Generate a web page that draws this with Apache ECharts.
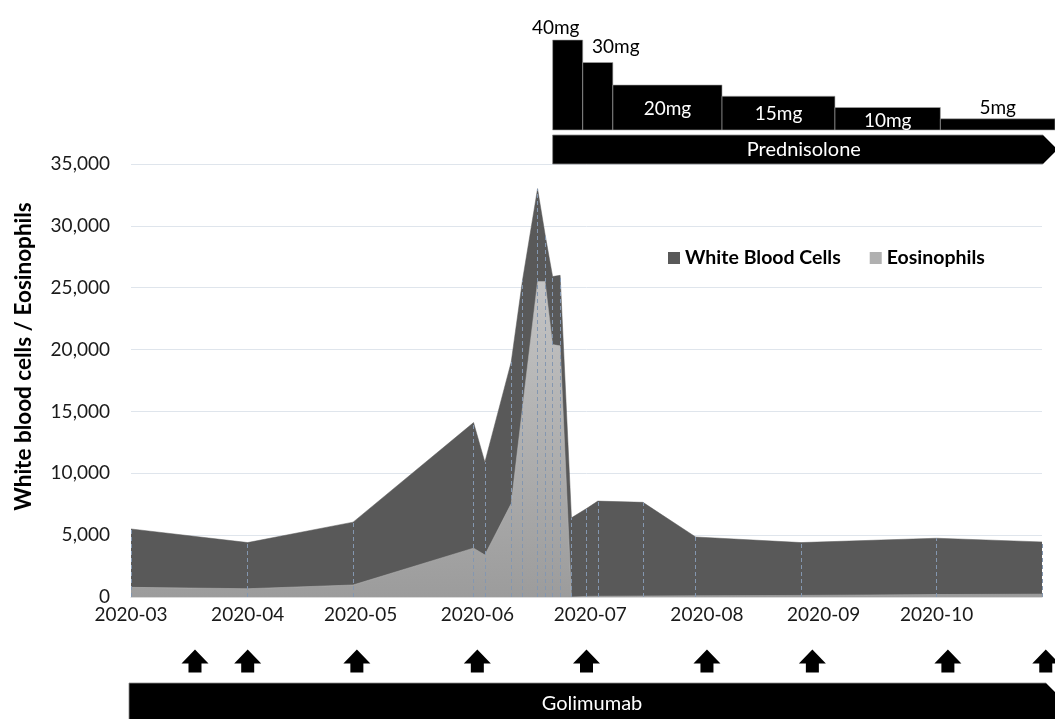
<!DOCTYPE html>
<html>
<head>
<meta charset="utf-8">
<script src="https://cdn.jsdelivr.net/npm/echarts@6/dist/echarts.min.js"></script>
<style>
html, body { margin: 0; padding: 0; background: #fff; }
#chart { width: 1055px; height: 719px; }
</style>
</head>
<body>
<div id="chart"></div>
<script>
var myChart = echarts.init(document.getElementById('chart'));

// blood counts (cells / uL)
var sampleDates = ['2020-03-01', '2020-04-01', '2020-04-29', '2020-05-31', '2020-06-03', '2020-06-10',
    '2020-06-13', '2020-06-17', '2020-06-19', '2020-06-21', '2020-06-23', '2020-06-26', '2020-06-30',
    '2020-07-03', '2020-07-15', '2020-07-29', '2020-08-26', '2020-10-01', '2020-10-29'];
var wbcCounts = [5500, 4400, 6050, 14100, 10900, 19000, 25600, 33000, 29300, 25900, 26000, 6400, 7150,
    7750, 7650, 4850, 4400, 4750, 4450];
var eosCounts = [780, 670, 970, 3950, 3400, 7550, 15300, 25500, 25500, 20400, 20300, 0, 50,
    60, 80, 100, 130, 200, 230];

// prednisolone taper
var doseStarts = ['2020-06-21', '2020-06-29', '2020-07-07', '2020-08-05', '2020-09-04', '2020-10-02'];
var doseMg = [40, 30, 20, 15, 10, 5];
var predStart = '2020-06-21';

// golimumab
var golimumabStart = '2020-03-01';
var injectionDates = ['2020-03-18', '2020-04-01', '2020-04-30', '2020-06-01', '2020-06-30',
    '2020-08-01', '2020-08-29', '2020-10-04', '2020-10-30'];

var yMax = 35000, yStep = 5000;

// label placement for the dose steps (offset from bar top centre)
var doseLabelOffset = [[-12, -12], [18, -16], [0, 24], [0, 18], [0, 13], [0, -11]];
var doseLabelColor = ['#000', '#000', '#fff', '#fff', '#fff', '#000'];

var FONT = 'Lato';
var xMin = echarts.time.parse(sampleDates[0]).getTime();
var xMax = echarts.time.parse(sampleDates[sampleDates.length - 1]).getTime();
var mainLeft = 131, mainWidth = 911, wideWidth = 924;
var wideMax = xMin + (xMax - xMin) * wideWidth / mainWidth;

var doseData = doseStarts.map(function (d, i) {
    var end = i < doseStarts.length - 1 ? echarts.time.parse(doseStarts[i + 1]).getTime() : wideMax;
    return [echarts.time.parse(d).getTime(), end, doseMg[i], i];
});

var dropLines = sampleDates.map(function (d, i) {
    return [{coord: [d, 0]}, {coord: [d, wbcCounts[i]]}];
});

function bandShape(x0, xEnd, y0, h, slope, textY, text) {
    return {
        type: 'group',
        children: [{
            type: 'polygon',
            shape: {points: [[x0, y0], [xEnd - slope, y0], [xEnd - slope + h / 2, y0 + h / 2],
                [xEnd - slope, y0 + h], [x0, y0 + h]]},
            style: {fill: '#000', stroke: '#8c8c8c', lineWidth: 0.8}
        }, {
            type: 'text',
            style: {
                text: text, x: (x0 + xEnd) / 2, y: textY,
                align: 'center', verticalAlign: 'middle',
                fill: '#fff', font: '20px ' + FONT
            }
        }]
    };
}

var option = {
    animation: false,
    textStyle: {fontFamily: FONT},
    legend: {
        left: 663,
        top: 243,
        itemWidth: 12,
        itemHeight: 12,
        itemGap: 29,
        icon: 'rect',
        textStyle: {fontFamily: FONT, fontWeight: 'bold', fontSize: 19.5, color: '#000'},
        data: ['White Blood Cells', 'Eosinophils']
    },
    grid: [
        {left: mainLeft, top: 164, width: mainWidth, height: 433},
        {left: mainLeft, top: 40, width: wideWidth, height: 90},
        {left: mainLeft, top: 641, width: wideWidth, height: 40}
    ],
    xAxis: [{
        type: 'time',
        gridIndex: 0,
        min: xMin,
        max: xMax,
        minInterval: 28 * 86400000,
        maxInterval: 31 * 86400000,
        axisLine: {lineStyle: {color: '#d9d9d9'}},
        axisTick: {show: false},
        splitLine: {show: false},
        axisLabel: {
            formatter: '{yyyy}-{MM}',
            fontSize: 19,
            color: '#1a1a1a',
            margin: 8,
            hideOverlap: false
        }
    }, {
        type: 'time', gridIndex: 1, min: xMin, max: wideMax, show: false
    }, {
        type: 'time', gridIndex: 2, min: xMin, max: wideMax, show: false
    }],
    yAxis: [{
        type: 'value',
        gridIndex: 0,
        min: 0,
        max: yMax,
        interval: yStep,
        name: 'White blood cells / Eosinophils',
        nameLocation: 'middle',
        nameGap: 96,
        nameTextStyle: {fontFamily: FONT, fontWeight: 'bold', fontSize: 22.5, color: '#000', padding: [0, 0, 0, 48]},
        axisLine: {show: false},
        axisTick: {show: false},
        splitLine: {lineStyle: {color: '#dfe5ec', width: 1}},
        axisLabel: {
            fontSize: 19,
            color: '#1a1a1a',
            margin: 21,
            formatter: function (v) { return v.toLocaleString('en-US'); }
        }
    }, {
        type: 'value', gridIndex: 1, min: 0, max: 40, show: false
    }, {
        type: 'value', gridIndex: 2, min: 0, max: 1, show: false
    }],
    series: [{
        name: 'White Blood Cells',
        type: 'line',
        xAxisIndex: 0,
        yAxisIndex: 0,
        symbol: 'none',
        itemStyle: {color: '#595959'},
        lineStyle: {width: 0.5, color: '#595959'},
        areaStyle: {color: '#595959', opacity: 1},
        data: sampleDates.map(function (d, i) { return [d, wbcCounts[i]]; })
    }, {
        name: 'Eosinophils',
        type: 'line',
        xAxisIndex: 0,
        yAxisIndex: 0,
        symbol: 'none',
        itemStyle: {color: '#b0b0b0'},
        lineStyle: {width: 0.5, color: '#bdbdbd'},
        areaStyle: {
            opacity: 1,
            color: new echarts.graphic.LinearGradient(0, 0, 0, 1, [
                {offset: 0, color: '#c4c4c4'},
                {offset: 1, color: '#9c9c9c'}
            ])
        },
        markLine: {
            silent: true,
            symbol: ['none', 'none'],
            label: {show: false},
            lineStyle: {type: [4, 3], color: '#8497b0', width: 1},
            data: dropLines
        },
        data: sampleDates.map(function (d, i) { return [d, eosCounts[i]]; })
    }, {
        name: 'Prednisolone dose',
        type: 'custom',
        xAxisIndex: 1,
        yAxisIndex: 1,
        clip: false,
        renderItem: function (params, api) {
            var top = api.coord([api.value(0), api.value(2)]);
            var bottom = api.coord([api.value(1), 0]);
            var i = api.value(3);
            var off = doseLabelOffset[i];
            return {
                type: 'group',
                children: [{
                    type: 'rect',
                    shape: {x: top[0], y: top[1], width: bottom[0] - top[0], height: bottom[1] - top[1]},
                    style: {fill: '#000', stroke: '#a6a6a6', lineWidth: 0.6}
                }, {
                    type: 'text',
                    style: {
                        text: api.value(2) + 'mg',
                        x: (top[0] + bottom[0]) / 2 + off[0],
                        y: top[1] + off[1],
                        align: 'center', verticalAlign: 'middle',
                        fill: doseLabelColor[i], font: '19px ' + FONT
                    }
                }]
            };
        },
        data: doseData
    }, {
        name: 'Prednisolone',
        type: 'custom',
        xAxisIndex: 1,
        yAxisIndex: 1,
        clip: false,
        renderItem: function (params, api) {
            var cs = params.coordSys;
            var x0 = api.coord([api.value(0), 0])[0];
            var y0 = cs.y + cs.height + 5;
            return bandShape(x0, cs.x + cs.width, y0, 29, 12, y0 + 15, 'Prednisolone');
        },
        data: [[predStart]]
    }, {
        name: 'Golimumab',
        type: 'custom',
        xAxisIndex: 2,
        yAxisIndex: 2,
        clip: false,
        renderItem: function (params, api) {
            var cs = params.coordSys;
            var x0 = api.coord([api.value(0), 0])[0];
            var y0 = cs.y + cs.height + 2;
            return bandShape(x0 - 2, cs.x + cs.width, y0, 46, 9, y0 + 21, 'Golimumab');
        },
        data: [[golimumabStart]]
    }, {
        name: 'Injections',
        type: 'scatter',
        xAxisIndex: 2,
        yAxisIndex: 2,
        symbol: 'path://M13.5,0 L27,14 L20,14 L20,23 L7,23 L7,14 L0,14 Z',
        symbolSize: [27, 23],
        itemStyle: {color: '#000', opacity: 1},
        data: injectionDates.map(function (d) { return [d, 0.5]; })
    }]
};

myChart.setOption(option);
</script>
</body>
</html>
